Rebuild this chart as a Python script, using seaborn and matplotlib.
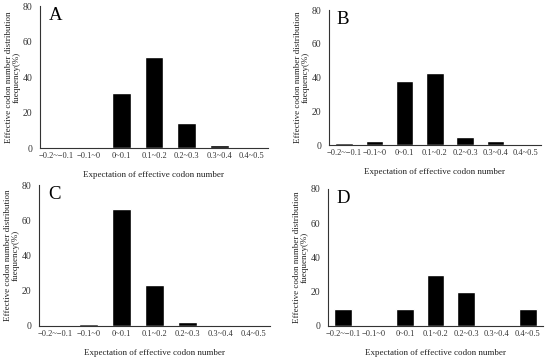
import matplotlib
matplotlib.use("Agg")
import matplotlib.pyplot as plt
import seaborn as sns
import pandas as pd
import numpy as np

categories = ["\u22120.2~\u22120.1", "\u22120.1~0", "0~0.1", "0.1~0.2", "0.2~0.3", "0.3~0.4", "0.4~0.5"]
values_A = [0, 0.3, 31, 51.5, 14, 1.5, 0]
values_B = [1, 2.2, 38, 42.5, 5, 2.2, 0]
values_C = [0, 1, 66.5, 23.5, 2, 0.5, 0]
values_D = [10, 0, 10, 30, 20, 0, 10]
panel_letters = ["A", "B", "C", "D"]
y_ticks = [0, 20, 40, 60, 80]
xlabel = "Expectation of effective codon number"
ylabel = "Effective codon number distribution\nfuequency(%)"

sns.set_theme(style="white")
plt.rcParams['font.family'] = ['Liberation Serif', 'DejaVu Serif']

fig = plt.figure(figsize=(5.5, 3.61), dpi=100)
positions = [
    [0.0727, 0.590, 0.4145, 0.393],
    [0.598, 0.598, 0.385, 0.374],
    [0.0709, 0.097, 0.420, 0.3905],
    [0.5964, 0.097, 0.391, 0.3795],
]
all_values = [values_A, values_B, values_C, values_D]

for pos, vals, letter in zip(positions, all_values, panel_letters):
    ax = fig.add_axes(pos)
    df = pd.DataFrame({"category": categories, "value": vals})
    sns.barplot(data=df, x="category", y="value", color="black", width=0.58,
                saturation=1, ax=ax, order=categories)
    ax.set_xlim(-0.5, len(categories) - 0.5)
    ax.set_ylim(0, 80)
    ax.set_yticks(y_ticks)
    ax.set_yticklabels([str(t) for t in y_ticks], fontsize=7, color="#333333")
    ax.set_xticks(range(len(categories)))
    ax.set_xticklabels(categories, fontsize=6, color="#333333")
    ax.set_xticks(np.arange(0.5, len(categories) - 0.4, 1.0), minor=True)
    ax.tick_params(axis="x", which="major", length=0, pad=3)
    ax.tick_params(axis="x", which="minor", direction="in", length=2.5, width=0.8, color="#333333")
    ax.tick_params(axis="y", which="major", direction="in", length=2.5, width=0.8, color="#333333", pad=5.5)
    for s in ["top", "right"]:
        ax.spines[s].set_visible(False)
    for s in ["left", "bottom"]:
        ax.spines[s].set_color("#333333")
        ax.spines[s].set_linewidth(0.8)
    ax.set_xlabel(xlabel, fontsize=6.5, color="#222222", labelpad=8)
    ax.set_ylabel(ylabel, fontsize=6.5, color="#222222", labelpad=1.0, linespacing=0.95)
    ax.text(0.038, 0.995, letter, transform=ax.transAxes, fontsize=13.5, va="top", ha="left", color="black")

fig.savefig("out.png", dpi=100)
